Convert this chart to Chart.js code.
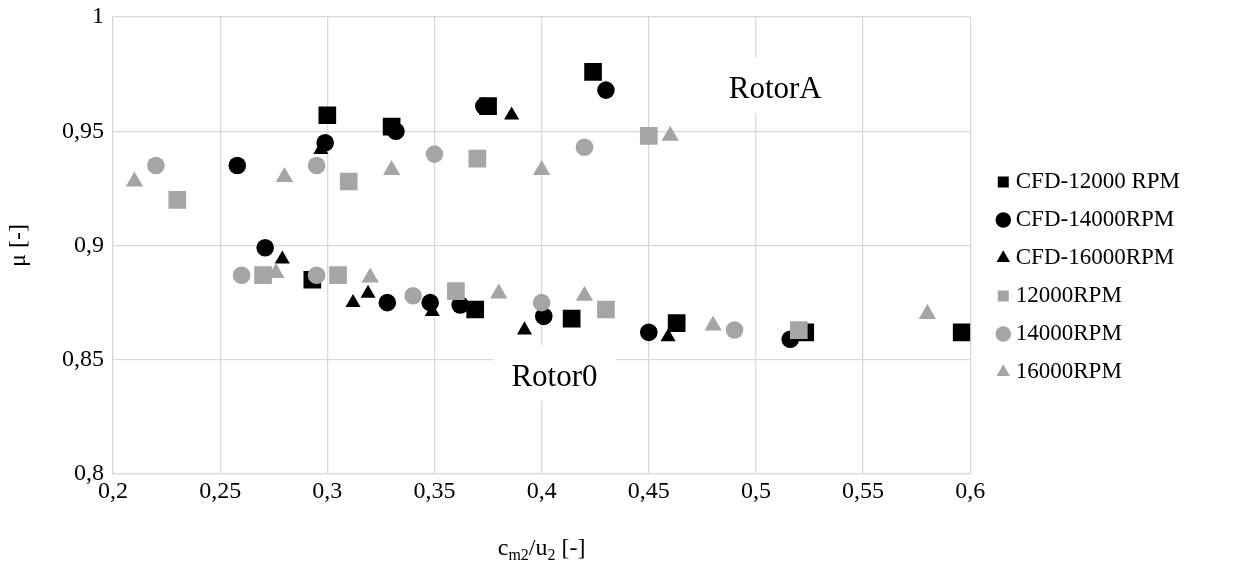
<!DOCTYPE html>
<html>
<head>
<meta charset="utf-8">
<script src="https://cdn.jsdelivr.net/npm/chart.js@4.4.1/dist/chart.umd.min.js"></script>
<style>
  html, body { margin: 0; padding: 0; background: #fff; }
  #wrap { width: 1249px; height: 563px; position: relative; }
</style>
</head>
<body>
<div id="wrap"><canvas id="chart"></canvas></div>
<script>
// values (x = cm2/u2, y = mu)
const cfd12000X = [0.300, 0.330, 0.375, 0.424, 0.293, 0.369, 0.414, 0.463, 0.523, 0.596];
const cfd12000Y = [0.957, 0.952, 0.961, 0.976, 0.885, 0.872, 0.868, 0.866, 0.862, 0.862];

const cfd14000X = [0.258, 0.299, 0.332, 0.373, 0.430, 0.271, 0.328, 0.348, 0.362, 0.401, 0.450, 0.516];
const cfd14000Y = [0.935, 0.945, 0.950, 0.961, 0.968, 0.899, 0.875, 0.875, 0.874, 0.869, 0.862, 0.859];

const cfd16000X = [0.297, 0.386, 0.279, 0.312, 0.319, 0.349, 0.392, 0.459];
const cfd16000Y = [0.942, 0.957, 0.894, 0.875, 0.879, 0.871, 0.863, 0.860];

const exp12000X = [0.230, 0.310, 0.370, 0.450, 0.270, 0.305, 0.360, 0.430, 0.520];
const exp12000Y = [0.920, 0.928, 0.938, 0.948, 0.887, 0.887, 0.880, 0.872, 0.863];

const exp14000X = [0.220, 0.295, 0.350, 0.420, 0.260, 0.295, 0.340, 0.400, 0.490];
const exp14000Y = [0.935, 0.935, 0.940, 0.943, 0.887, 0.887, 0.878, 0.875, 0.863];

const exp16000X = [0.210, 0.280, 0.330, 0.400, 0.460, 0.276, 0.320, 0.380, 0.420, 0.480, 0.580];
const exp16000Y = [0.928, 0.930, 0.933, 0.933, 0.948, 0.888, 0.886, 0.879, 0.878, 0.865, 0.870];

const seriesNames = ["CFD-12000 RPM", "CFD-14000RPM", "CFD-16000RPM", "12000RPM", "14000RPM", "16000RPM"];
const xTickLabels = ["0,2", "0,25", "0,3", "0,35", "0,4", "0,45", "0,5", "0,55", "0,6"];
const yTickLabels = ["0,8", "0,85", "0,9", "0,95", "1"];

const noteTexts = ["RotorA", "Rotor0"];
const noteX = [0.509, 0.406];
const noteY = [0.968, 0.842];

const FONT = "'Liberation Serif', 'Times New Roman', serif";
const BLACK = "#000000";
const GREY = "#a5a5a5";

function toPoints(xs, ys) {
    const pts = [];
    for (let i = 0; i < xs.length; i++) {
        pts.push({ x: xs[i], y: ys[i] });
    }
    return pts;
}

function makeSet(label, xs, ys, color, style, radius, order) {
    return {
        label: label,
        data: toPoints(xs, ys),
        pointStyle: style,
        pointRadius: radius,
        pointBackgroundColor: color,
        pointBorderColor: color,
        pointBorderWidth: 0,
        backgroundColor: color,
        borderColor: color,
        borderWidth: 0,
        showLine: false,
        order: order
    };
}

// later series sit on top, like the original
const datasets = [
    makeSet(seriesNames[0], cfd12000X, cfd12000Y, BLACK, "rect", 12.5, 6),
    makeSet(seriesNames[1], cfd14000X, cfd14000Y, BLACK, "circle", 8.8, 5),
    makeSet(seriesNames[2], cfd16000X, cfd16000Y, BLACK, "triangle", 8.7, 4),
    makeSet(seriesNames[3], exp12000X, exp12000Y, GREY, "rect", 12.5, 3),
    makeSet(seriesNames[4], exp14000X, exp14000Y, GREY, "circle", 8.8, 2),
    makeSet(seriesNames[5], exp16000X, exp16000Y, GREY, "triangle", 10, 1)
];

const notesPlugin = {
    id: "notes",
    beforeDatasetsDraw(chart) {
        const ctx = chart.ctx;
        const xs = chart.scales.x;
        const ys = chart.scales.y;
        ctx.save();
        ctx.font = "31px " + FONT;
        ctx.textAlign = "center";
        ctx.textBaseline = "middle";
        for (let i = 0; i < noteTexts.length; i++) {
            const px = xs.getPixelForValue(noteX[i]);
            const py = ys.getPixelForValue(noteY[i]);
            const w = ctx.measureText(noteTexts[i]).width + 36;
            ctx.fillStyle = "#ffffff";
            ctx.fillRect(px - w / 2, py - 33, w, 56);
            ctx.fillStyle = BLACK;
            ctx.fillText(noteTexts[i], px, py);
        }
        ctx.restore();
    }
};

const xTitlePlugin = {
    id: "xTitle",
    afterDraw(chart) {
        const ctx = chart.ctx;
        const area = chart.chartArea;
        const parts = [
            { t: "c", sub: false },
            { t: "m2", sub: true },
            { t: "/u", sub: false },
            { t: "2", sub: true },
            { t: " [-]", sub: false }
        ];
        ctx.save();
        ctx.fillStyle = BLACK;
        ctx.textBaseline = "alphabetic";
        let total = 0;
        for (const p of parts) {
            ctx.font = (p.sub ? "16px " : "24px ") + FONT;
            p.w = ctx.measureText(p.t).width;
            total += p.w;
        }
        let x = (area.left + area.right) / 2 - total / 2;
        const base = 555;
        for (const p of parts) {
            ctx.font = (p.sub ? "16px " : "24px ") + FONT;
            ctx.fillText(p.t, x, p.sub ? base + 5 : base);
            x += p.w;
        }
        ctx.restore();
    }
};

const legendShift = {
    id: "legendShift",
    afterLayout(chart) {
        const lg = chart.legend;
        if (!lg) {
            return;
        }
        lg.left += 17;
        lg.right += 17;
        lg.top -= 13;
        lg.bottom -= 13;
    }
};

new Chart(document.getElementById("chart"), {
    type: "scatter",
    data: { datasets: datasets },
    plugins: [notesPlugin, xTitlePlugin, legendShift],
    options: {
        responsive: true,
        maintainAspectRatio: false,
        animation: false,
        events: [],
        layout: {
            padding: { top: 17, right: 76, bottom: 0, left: 0 }
        },
        plugins: {
            tooltip: { enabled: false },
            legend: {
                display: true,
                position: "right",
                align: "center",
                labels: {
                    usePointStyle: true,
                    boxWidth: 2,
                    boxHeight: 11,
                    padding: 15,
                    color: BLACK,
                    font: { family: FONT, size: 23 },
                    sort: function (a, b) {
                        return a.datasetIndex - b.datasetIndex;
                    }
                }
            }
        },
        scales: {
            x: {
                type: "linear",
                min: 0.2,
                max: 0.6,
                afterFit: function (scale) {
                    scale.height = 89;
                },
                ticks: {
                    stepSize: 0.05,
                    padding: 3,
                    color: BLACK,
                    maxRotation: 0,
                    font: { family: FONT, size: 24 },
                    callback: function (value) {
                        return xTickLabels[Math.round((value - 0.2) / 0.05)];
                    }
                },
                grid: { color: "#d9d9d9", lineWidth: 1.3, drawTicks: false },
                border: { color: "#d9d9d9", width: 1.3 }
            },
            y: {
                type: "linear",
                min: 0.8,
                max: 1,
                afterFit: function (scale) {
                    scale.width = 113;
                    scale.paddingTop = 0;
                    scale.paddingBottom = 0;
                },
                title: {
                    display: true,
                    text: "\u03bc [-]",
                    color: BLACK,
                    padding: { top: 4, bottom: 4 },
                    font: { family: FONT, size: 24 }
                },
                ticks: {
                    stepSize: 0.05,
                    padding: 9,
                    color: BLACK,
                    font: { family: FONT, size: 24 },
                    callback: function (value) {
                        return yTickLabels[Math.round((value - 0.8) / 0.05)];
                    }
                },
                grid: { color: "#d9d9d9", lineWidth: 1.3, drawTicks: false },
                border: { color: "#d9d9d9", width: 1.3 }
            }
        }
    }
});
</script>
</body>
</html>
